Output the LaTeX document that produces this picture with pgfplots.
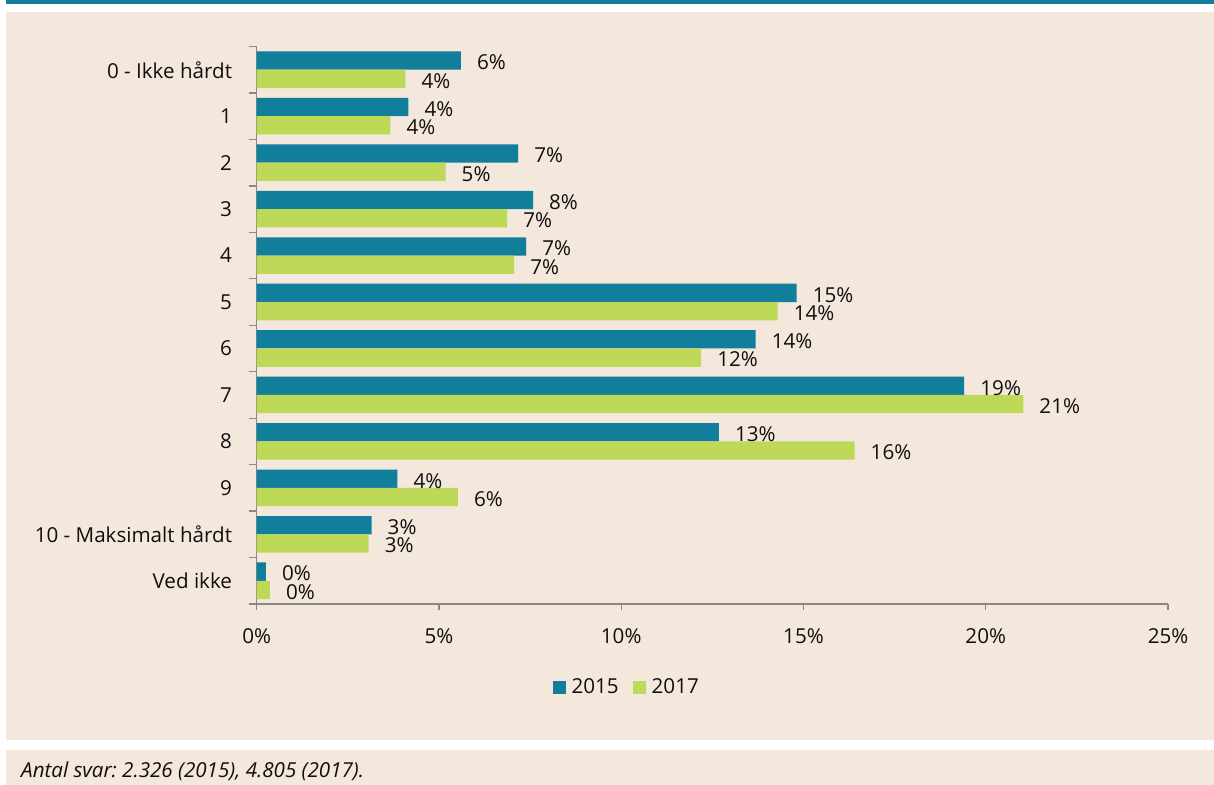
\documentclass[border=0pt]{standalone}
\usepackage{fontspec}
\setmainfont{Open Sans}
\usepackage{pgfplots}
\pgfplotsset{compat=1.18}
\usepackage{pgfplotstable}
\definecolor{cA}{RGB}{17,126,155}
\definecolor{cB}{RGB}{190,216,88}
\definecolor{bg}{RGB}{244,232,220}
\definecolor{axc}{RGB}{137,137,137}
\definecolor{txt}{RGB}{15,15,15}
\frenchspacing

% 2015
\pgfplotstableread{
cat val lab
0 5.60 6\%
1 4.16 4\%
2 7.17 7\%
3 7.58 8\%
4 7.39 7\%
5 14.81 15\%
6 13.69 14\%
7 19.41 19\%
8 12.68 13\%
9 3.86 4\%
10 3.15 3\%
11 0.25 0\%
}\dataA
% 2017
\pgfplotstableread{
cat val lab
0 4.08 4\%
1 3.67 4\%
2 5.18 5\%
3 6.87 7\%
4 7.06 7\%
5 14.29 14\%
6 12.19 12\%
7 21.03 21\%
8 16.40 16\%
9 5.52 6\%
10 3.07 3\%
11 0.36 0\%
}\dataB

\newcommand{\fs}{\fontsize{20.6bp}{24bp}\selectfont}

\begin{document}
\begin{tikzpicture}
\fill[white] (0,0) rectangle (1214bp,-785bp);
\fill[cA] (6bp,0) rectangle (1214bp,-4bp);
\fill[bg] (6bp,-12bp) rectangle (1214bp,-740bp);
\fill[bg] (6bp,-750bp) rectangle (1214bp,-785bp);
\node[anchor=base west, inner sep=0pt, font=\fs\itshape, text=txt] at (21bp,-777bp) {Antal svar: 2.326 (2015), 4.805 (2017).};
\begin{axis}[
  at={(256.7bp,-604bp)}, anchor=south west,
  scale only axis, width=911.3bp, height=557.5bp,
  xmin=0, xmax=25, ymin=-0.5, ymax=11.5,
  axis lines*=left,
  axis line style={axc, line width=1.3bp},
  every tick/.style={axc, line width=1.3bp},
  tick align=outside,
  major tick length=6bp, minor tick length=8bp,
  xtick={0,5,...,25}, xticklabels={0\%,5\%,10\%,15\%,20\%,25\%},
  ytick={0,...,11},
  yticklabels={Ved ikke, 10 - Maksimalt hårdt, 9,8,7,6,5,4,3,2,1, 0 - Ikke hårdt},
  every major y tick/.style={draw=none},
  minor ytick={-0.5,0.5,...,11.5},
  /pgf/number format/assume math mode=true,
  font=\fs,
  ticklabel style={text=txt, font=\fs},
  xticklabel style={inner sep=0pt, anchor=north, yshift=-18bp},
  yticklabel style={inner sep=0pt, anchor=east, xshift=-18.5bp},
  xbar, bar width=0.394, bar shift=0pt,
  nodes near coords, point meta=explicit symbolic,
  every node near coord/.append style={anchor=west, inner sep=0pt, xshift=16bp, yshift=-2bp, text=txt, font=\fs},
  clip=false,
  legend style={at={(0.406,-0.149)}, anchor=center, draw=none, fill=none,
    legend columns=2, text=txt, font=\fs,
    /tikz/every odd column/.append style={column sep=4bp},
    /tikz/every even column/.append style={column sep=12bp}},
]
\addplot[fill=cA, draw=none, forget plot] table[x=val, y expr=11-\thisrow{cat}+0.197, meta=lab] {\dataA};
\addplot[fill=cB, draw=none, forget plot] table[x=val, y expr=11-\thisrow{cat}-0.197, meta=lab] {\dataB};
\addlegendimage{legend image code/.code={\fill[cA] (0bp,-6.3bp) rectangle (12.6bp,6.3bp);}}
\addlegendentry{2015}
\addlegendimage{legend image code/.code={\fill[cB] (0bp,-6.3bp) rectangle (12.6bp,6.3bp);}}
\addlegendentry{2017}
\end{axis}
\pgfresetboundingbox
\useasboundingbox (0,0) rectangle (1214bp,-785bp);
\end{tikzpicture}
\end{document}
